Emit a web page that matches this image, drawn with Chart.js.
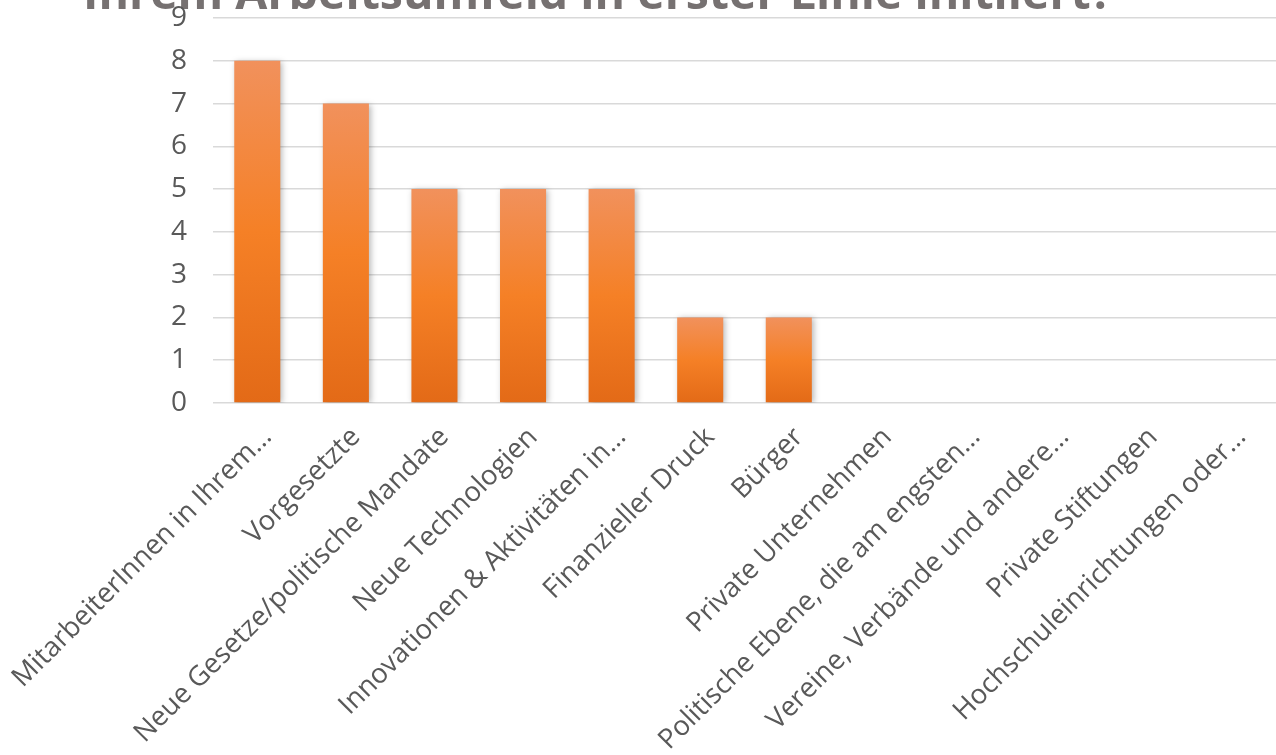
<!DOCTYPE html>
<html>
<head>
<meta charset="utf-8">
<script src="https://cdn.jsdelivr.net/npm/chart.js@4"></script>
<style>
  html, body { margin: 0; padding: 0; background: #fff; overflow: hidden; }
  #wrap { width: 1276px; height: 755px; }
</style>
</head>
<body>
<div id="wrap"><canvas id="barChart"></canvas></div>
<script>
const titleText = "Ihrem Arbeitsumfeld in erster Linie initiiert?";

const categories = [
  "MitarbeiterInnen in Ihrem…",
  "Vorgesetzte",
  "Neue Gesetze/politische Mandate",
  "Neue Technologien",
  "Innovationen & Aktivitäten in…",
  "Finanzieller Druck",
  "Bürger",
  "Private Unternehmen",
  "Politische Ebene, die am engsten…",
  "Vereine, Verbände und andere…",
  "Private Stiftungen",
  "Hochschuleinrichtungen oder…"
];

const counts = [8, 7, 5, 5, 5, 2, 2, 0, 0, 0, 0, 0];

const yTicks = [0, 1, 2, 3, 4, 5, 6, 7, 8, 9];

const textColor = "#595959";
const fontName = "'Open Sans', 'Noto Sans', sans-serif";

// gradient per bar, lighter at the top like the Excel style
function barFill(context) {
  const chart = context.chart;
  if (!chart.chartArea) return "#F47F2A";
  const v = context.raw;
  if (!v) return "#F47F2A";
  const y = chart.scales.y;
  const top = y.getPixelForValue(v);
  const bottom = y.getPixelForValue(0);
  const g = chart.ctx.createLinearGradient(0, top, 0, bottom);
  g.addColorStop(0, "#F1915C");
  g.addColorStop(0.5, "#F58026");
  g.addColorStop(1, "#E36A17");
  return g;
}

const barShadow = {
  id: "barShadow",
  beforeDatasetDraw(chart) {
    const c = chart.ctx;
    c.save();
    c.shadowColor = "rgba(0,0,0,0.28)";
    c.shadowBlur = 6;
    c.shadowOffsetX = 2;
    c.shadowOffsetY = 1;
  },
  afterDatasetDraw(chart) {
    chart.ctx.restore();
  }
};

// title is cut off at the top of the picture, axis labels draw over it
const cutTitle = {
  id: "cutTitle",
  beforeDraw(chart) {
    const c = chart.ctx;
    c.save();
    c.font = "bold 46.5px " + fontName;
    c.fillStyle = "#767171";
    c.textAlign = "center";
    c.textBaseline = "alphabetic";
    c.fillText(titleText, 598, 9);
    c.restore();
  }
};

const ctx = document.getElementById("barChart").getContext("2d");

new Chart(ctx, {
  type: "bar",
  data: {
    labels: categories,
    datasets: [{
      label: "Anzahl",
      data: counts,
      backgroundColor: barFill,
      borderWidth: 0,
      barPercentage: 0.52,
      categoryPercentage: 1
    }]
  },
  options: {
    responsive: true,
    maintainAspectRatio: false,
    animation: false,
    layout: { padding: { top: 18, right: 0, bottom: 0, left: 0 } },
    plugins: {
      legend: { display: false },
      tooltip: { enabled: false }
    },
    scales: {
      x: {
        grid: { display: false },
        border: { display: false },
        ticks: {
          color: textColor,
          font: { family: fontName, size: 27.5 },
          maxRotation: 45,
          minRotation: 45,
          autoSkip: false,
          padding: 10,
          labelOffset: 10
        },
        afterFit(scale) {
          scale.height = 352;
          scale.paddingLeft = 0;
          scale.paddingRight = 0;
        }
      },
      y: {
        min: 0,
        max: 9,
        afterBuildTicks(scale) { scale.ticks = yTicks.map(v => ({ value: v })); },
        grid: { color: "#D9D9D9", lineWidth: 1.5, drawTicks: false },
        border: { display: false },
        ticks: {
          color: textColor,
          font: { family: fontName, size: 28 },
          padding: 26
        },
        afterFit(scale) {
          scale.width = 213;
          scale.paddingTop = 0;
          scale.paddingBottom = 0;
        }
      }
    }
  },
  plugins: [barShadow, cutTitle]
});
</script>
</body>
</html>
